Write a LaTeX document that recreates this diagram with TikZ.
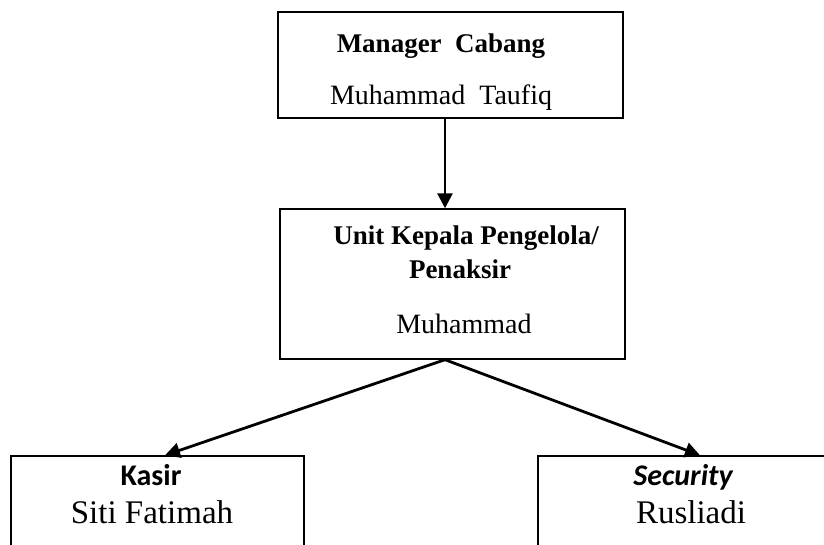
\documentclass[tikz,border=0pt]{standalone}
\usepackage{fontspec}
\setmainfont{Liberation Serif}
\newfontfamily\calib{Carlito}
\usetikzlibrary{arrows.meta}
\begin{document}
\begin{tikzpicture}[x=1pt,y=-1pt,
  box/.style={draw=black, line width=1.4pt, inner sep=0pt, fill=none},
  txt/.style={anchor=base, inner sep=0pt},
  serif/.style={txt, font=\fontsize{28}{32}\selectfont},
  serifb/.style={txt, font=\fontsize{27}{32}\selectfont\bfseries},
  big/.style={txt, font=\fontsize{33}{38}\selectfont},
  cal/.style={txt, font=\fontsize{30}{34}\selectfont\calib\bfseries},
  arr/.style={line width=2.8pt, -{Triangle[length=15pt,width=15pt]}}]
\useasboundingbox (0,0) rectangle (824,545);
\clip (0,0) rectangle (824,545);
\fill[white] (0,0) rectangle (824,545);
% boxes
\node[box, minimum width=345pt, minimum height=106pt] (top) at (450.5,65) {};
\node[box, minimum width=345pt, minimum height=150pt] (mid) at (452.5,284) {};
\node[box, minimum width=293pt, minimum height=144pt] (kasir) at (157.5,528) {};
\node[box, minimum width=362pt, minimum height=144pt] (sec) at (719,528) {};
% texts
\node[serifb] (t1) at (441,53) {Manager\ \ Cabang};
\node[serif] (t2) at (441,105) {Muhammad\ \ Taufiq};
\node[serifb] (m1) at (466,245) {Unit Kepala Pengelola/};
\node[serifb] (m2) at (460,278) {Penaksir};
\node[serif] (m3) at (464,333) {Muhammad};
\node[cal] (k1) at (151,485) {Kasir};
\node[big] (k2) at (152,523) {Siti Fatimah};
\node[cal] (s1) at (683,485) {\itshape Security};
\node[big] (s2) at (691,523) {Rusliadi};
% connectors
\draw[arr] ([xshift=-5.5pt]top.south) -- ([xshift=-7.5pt]mid.north);
\draw[arr] ([xshift=-7.5pt]mid.south) -- ([xshift=7.5pt]kasir.north);
\draw[arr] ([xshift=-7.5pt]mid.south) -- ([xshift=-19pt]sec.north);
\end{tikzpicture}
\end{document}
